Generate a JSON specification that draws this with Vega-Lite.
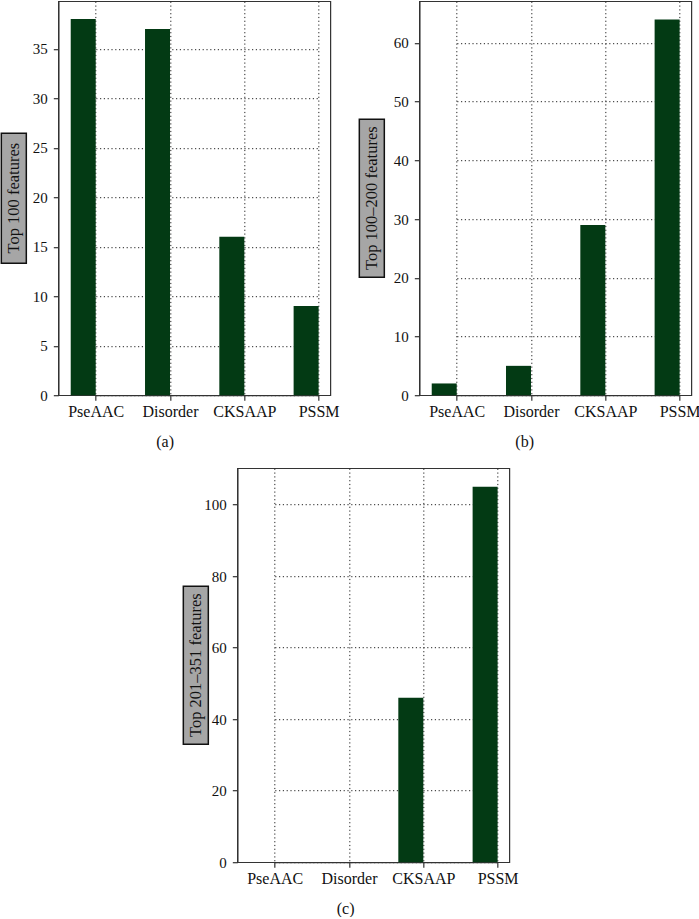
{
  "$schema": "https://vega.github.io/schema/vega-lite/v6.json",
  "padding": {"left": 0, "top": 0, "right": 0, "bottom": 0},
  "background": "white",
  "config": {
    "font": "Liberation Serif",
    "view": {"stroke": "#333333", "strokeWidth": 1.2},
    "axis": {
      "labelFont": "Liberation Serif",
      "labelColor": "#111111",
      "domainColor": "#333333",
      "domainWidth": 1.2,
      "tickColor": "#333333",
      "tickSize": 5,
      "tickWidth": 1.2,
      "gridColor": "#222222",
      "gridDash": [1.2, 2.6],
      "gridWidth": 1,
      "gridOpacity": 1,
      "zindex": 1
    },
    "axisX": {"labelFontSize": 16, "labelAngle": 0, "labelPadding": 3},
    "axisY": {"labelFontSize": 15, "labelPadding": 6},
    "title": {"font": "Liberation Serif", "fontSize": 16, "fontWeight": "normal", "color": "#111111"}
  },
  "datasets": {
    "a": [
      {"feature": "PseAAC", "count": 38},
      {"feature": "Disorder", "count": 37},
      {"feature": "CKSAAP", "count": 16},
      {"feature": "PSSM", "count": 9}
    ],
    "b": [
      {"feature": "PseAAC", "count": 2},
      {"feature": "Disorder", "count": 5},
      {"feature": "CKSAAP", "count": 29},
      {"feature": "PSSM", "count": 64}
    ],
    "c": [
      {"feature": "PseAAC", "count": 0},
      {"feature": "Disorder", "count": 0},
      {"feature": "CKSAAP", "count": 46},
      {"feature": "PSSM", "count": 105}
    ]
  },
  "vconcat": [
    {
      "hconcat": [
        {
          "title": {"text": "(a)", "orient": "bottom", "anchor": "middle", "offset": 14, "baseline": "top", "dx": -5},
          "hconcat": [
            {
              "width": 25,
              "height": 130,
              "view": {"fill": "#a6a6a6", "stroke": "#111111", "strokeWidth": 1.5},
              "data": {"values": [{"label": "Top 100 features"}]},
              "mark": {"type": "text", "angle": 270, "font": "Liberation Serif", "fontSize": 16.5, "color": "#111111", "baseline": "middle", "align": "center"},
              "encoding": {
                "x": {"field": "label", "type": "nominal", "axis": {"title": null, "ticks": false, "domain": false, "grid": false, "labelOpacity": 0, "labelExpr": "'x'", "labelPadding": 8}},
                "text": {"field": "label"}
              }
            },
            {
              "width": 272,
              "height": 394,
              "data": {"name": "a"},
              "mark": {"type": "bar", "width": 25, "xOffset": -12.5, "color": "#033a14"},
              "encoding": {
                "x": {"field": "feature", "type": "nominal", "sort": ["PseAAC", "Disorder", "CKSAAP", "PSSM"], "scale": {"type": "point", "range": [37.4, 260.3], "padding": 0}, "axis": {"title": null, "grid": true}},
                "y": {"field": "count", "type": "quantitative", "scale": {"domain": [0, 39.8], "nice": false}, "axis": {"title": null, "values": [0, 5, 10, 15, 20, 25, 30, 35], "grid": true}}
              }
            }
          ],
          "spacing": 4,
          "center": true
        },
        {
          "title": {"text": "(b)", "orient": "bottom", "anchor": "middle", "offset": 14, "baseline": "top", "dx": -5},
          "hconcat": [
            {
              "width": 25,
              "height": 158,
              "view": {"fill": "#a6a6a6", "stroke": "#111111", "strokeWidth": 1.5},
              "data": {"values": [{"label": "Top 100–200 features"}]},
              "mark": {"type": "text", "angle": 270, "font": "Liberation Serif", "fontSize": 16.5, "color": "#111111", "baseline": "middle", "align": "center"},
              "encoding": {
                "x": {"field": "label", "type": "nominal", "axis": {"title": null, "ticks": false, "domain": false, "grid": false, "labelOpacity": 0, "labelExpr": "'x'", "labelPadding": 8}},
                "text": {"field": "label"}
              }
            },
            {
              "width": 272,
              "height": 394,
              "data": {"name": "b"},
              "mark": {"type": "bar", "width": 25, "xOffset": -12.5, "color": "#033a14"},
              "encoding": {
                "x": {"field": "feature", "type": "nominal", "sort": ["PseAAC", "Disorder", "CKSAAP", "PSSM"], "scale": {"type": "point", "range": [37.4, 260.3], "padding": 0}, "axis": {"title": null, "grid": true}},
                "y": {"field": "count", "type": "quantitative", "scale": {"domain": [0, 67.1], "nice": false}, "axis": {"title": null, "values": [0, 10, 20, 30, 40, 50, 60], "grid": true}}
              }
            }
          ],
          "spacing": 7,
          "center": true
        }
      ],
      "spacing": 18
    },
    {
      "title": {"text": "(c)", "orient": "bottom", "anchor": "middle", "offset": 14, "baseline": "top", "dx": -5},
      "hconcat": [
        {
          "width": 25,
          "height": 158,
          "view": {"fill": "#a6a6a6", "stroke": "#111111", "strokeWidth": 1.5},
          "data": {"values": [{"label": "Top 201–351 features"}]},
          "mark": {"type": "text", "angle": 270, "font": "Liberation Serif", "fontSize": 16.5, "color": "#111111", "baseline": "middle", "align": "center"},
          "encoding": {
            "x": {"field": "label", "type": "nominal", "axis": {"title": null, "ticks": false, "domain": false, "grid": false, "labelOpacity": 0, "labelExpr": "'x'", "labelPadding": 8}},
            "text": {"field": "label"}
          }
        },
        {
          "width": 272,
          "height": 394,
          "data": {"name": "c"},
          "mark": {"type": "bar", "width": 25, "xOffset": -12.5, "color": "#033a14"},
          "encoding": {
            "x": {"field": "feature", "type": "nominal", "sort": ["PseAAC", "Disorder", "CKSAAP", "PSSM"], "scale": {"type": "point", "range": [37.4, 260.3], "padding": 0}, "axis": {"title": null, "grid": true}},
            "y": {"field": "count", "type": "quantitative", "scale": {"domain": [0, 110.2], "nice": false}, "axis": {"title": null, "values": [0, 20, 40, 60, 80, 100], "grid": true}}
          }
        }
      ],
      "spacing": -7,
      "center": true
    }
  ],
  "spacing": 17,
  "center": true
}
